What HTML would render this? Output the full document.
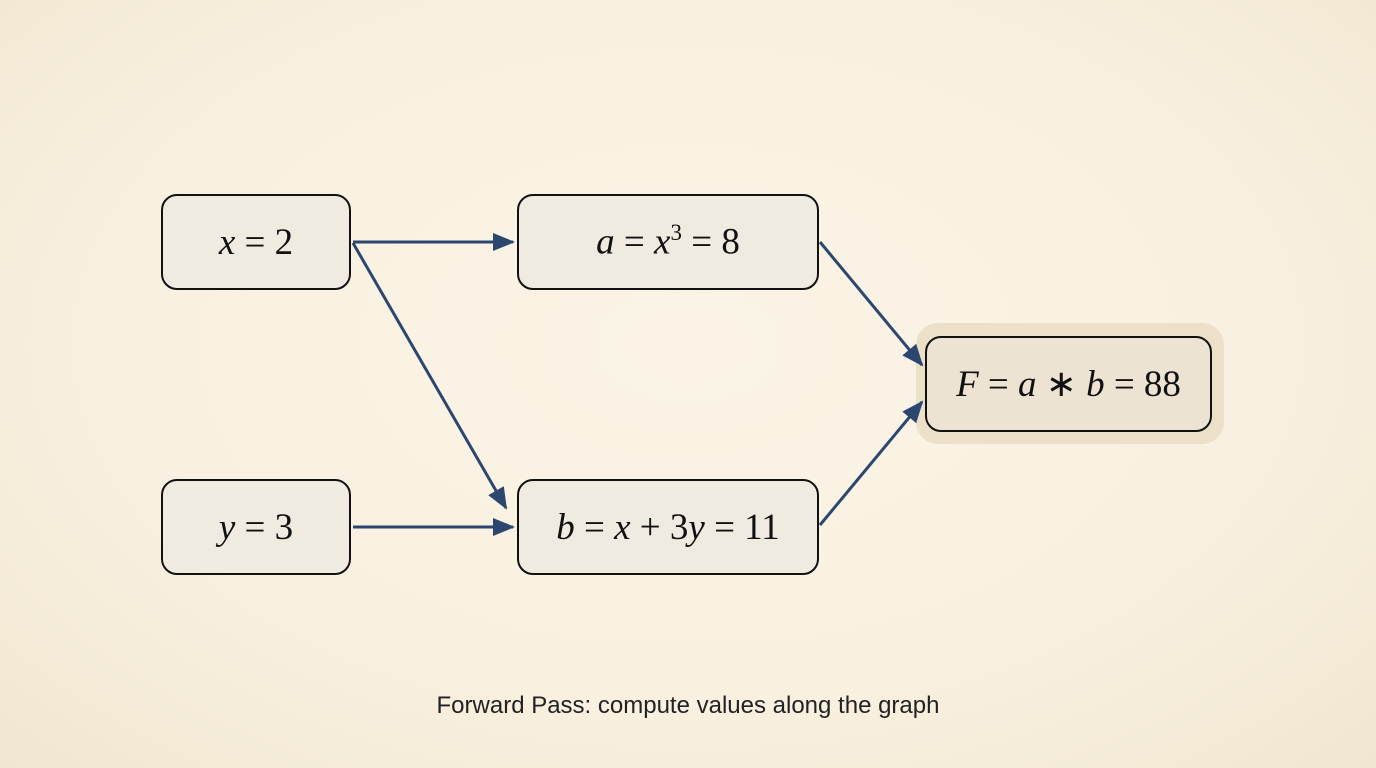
<!DOCTYPE html>
<html><head><style>
body{margin:0;width:1376px;height:768px;overflow:hidden;background:radial-gradient(ellipse at 50% 45%,#fbf4e6 0%,#f8f0e0 60%,#f1e6d0 100%);font-family:"Liberation Serif",serif;position:relative}
.b{position:absolute;box-sizing:border-box;border:2.5px solid #111;border-radius:16px;background:#efebe1;display:flex;align-items:center;justify-content:center;font-size:37px;color:#111}
i{font-style:italic}
.cap{position:absolute;left:0;width:1376px;top:692px;text-align:center;font-family:"Liberation Sans",sans-serif;font-size:24px;color:#222}
</style></head><body>
<div style="position:absolute;left:916px;top:323px;width:308px;height:121px;border-radius:22px;background:#ede0c8"></div>
<svg style="position:absolute;left:0;top:0" width="1376" height="768">
<defs><marker id="m" markerWidth="22" markerHeight="18" refX="20" refY="9" orient="auto" markerUnits="userSpaceOnUse" viewBox="0 0 22 18"><path d="M0,0 L22,9 L0,18 Z" fill="#2b4770"/></marker></defs>
<g stroke="#2b4770" stroke-width="3" fill="none">
<line x1="353" y1="242" x2="513" y2="242" marker-end="url(#m)"/>
<line x1="353" y1="243" x2="506" y2="508" marker-end="url(#m)"/>
<line x1="353" y1="527" x2="513" y2="527" marker-end="url(#m)"/>
<line x1="820" y1="242" x2="922" y2="365" marker-end="url(#m)"/>
<line x1="820" y1="525" x2="922" y2="402" marker-end="url(#m)"/>
</g>
</svg>
<div class="b" style="left:161px;top:194px;width:190px;height:96px"><span><i>x</i> = 2</span></div>
<div class="b" style="left:517px;top:194px;width:302px;height:96px"><span><i>a</i> = <i>x</i><sup style="font-size:23px">3</sup> = 8</span></div>
<div class="b" style="left:161px;top:479px;width:190px;height:96px"><span><i>y</i> = 3</span></div>
<div class="b" style="left:517px;top:479px;width:302px;height:96px"><span><i>b</i> = <i>x</i> + 3<i>y</i> = 11</span></div>
<div class="b" style="left:925px;top:336px;width:287px;height:96px;background:#ece3d2"><span><i>F</i> = <i>a</i> ∗ <i>b</i> = 88</span></div>
<div class="cap">Forward Pass: compute values along the graph</div>
</body></html>
